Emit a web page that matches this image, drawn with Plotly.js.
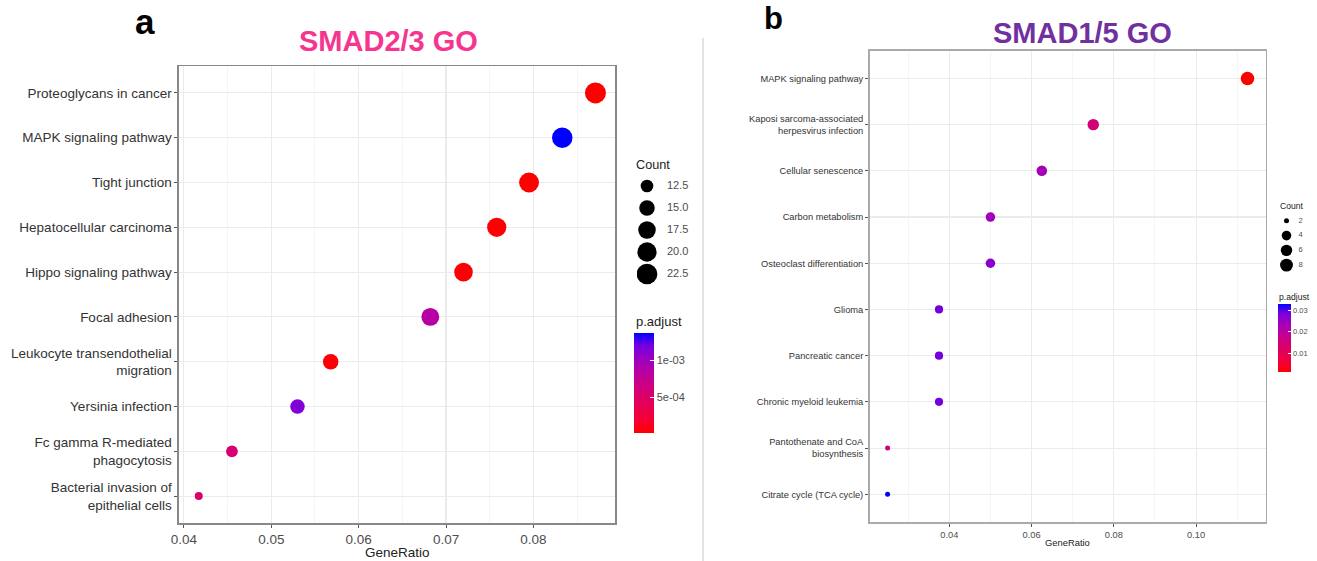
<!DOCTYPE html>
<html><head><meta charset="utf-8">
<script src="https://cdn.plot.ly/plotly-3.0.1.min.js"></script>
<style>html,body{margin:0;padding:0;background:#fff}#chart{width:1317px;height:561px}</style>
</head><body><div id="chart"></div>
<script>
// ---------- Panel a: SMAD2/3 ----------
const termsA = ['Proteoglycans in cancer','MAPK signaling pathway','Tight junction','Hepatocellular carcinoma','Hippo signaling pathway','Focal adhesion','Leukocyte transendothelial<br>migration','Yersinia infection','Fc gamma R-mediated<br>phagocytosis','Bacterial invasion of<br>epithelial cells'];
const ratioA = [0.0871,0.0833,0.0795,0.0758,0.0720,0.0682,0.0568,0.0530,0.0455,0.0417];
const countA = [23,22,21,20,19,18,15,14,12,11];
const padjA  = [2.5e-5,1.37e-3,3.0e-5,4.0e-5,3.5e-5,8.6e-4,5.0e-5,1.14e-3,5.6e-4,5.4e-4];
const countLegendA = [12.5,15.0,17.5,20.0,22.5];
const cbTickValsA = [1e-3,5e-4];
const cbTickTextA = ['1e-03','5e-04'];
const xTicksA = [0.04,0.05,0.06,0.07,0.08];

// ---------- Panel b: SMAD1/5 ----------
const termsB = ['MAPK signaling pathway','Kaposi sarcoma-associated<br>herpesvirus infection','Cellular senescence','Carbon metabolism','Osteoclast differentiation','Glioma','Pancreatic cancer','Chronic myeloid leukemia','Pantothenate and CoA<br>biosynthesis','Citrate cycle (TCA cycle)'];
const ratioB = [0.1125,0.0750,0.0625,0.0500,0.0500,0.0375,0.0375,0.0375,0.0250,0.0250];
const countB = [9,6,5,4,4,3,3,3,2,2];
const padjB  = [0.0015,0.0146,0.0234,0.0240,0.0265,0.0287,0.0287,0.0287,0.0134,0.0328];
const countLegendB = [2,4,6,8];
const cbTickValsB = [0.01,0.02,0.03];
const cbTickTextB = ['0.01','0.02','0.03'];
const xTicksB = [0.04,0.06,0.08,0.10];

const W = 1317, H = 561;
const px = v => v / W;           // x pixel -> paper
const py = v => 1 - v / H;       // y pixel (from top) -> paper
const FONT = 'Liberation Sans, Arial, sans-serif';

// ggplot2 default red->blue gradient (Lab interpolated)
const cscale = [[0,'#FF0000'],[0.125,'#F40031'],[0.25,'#E80050'],[0.375,'#DA006C'],[0.5,'#CA0089'],[0.625,'#B500A5'],[0.75,'#9A00C3'],[0.875,'#7300E0'],[1,'#0000FF']];

// ggplot scale_size (area) mapping
function sizeScale(cmin, cmax, dmin, dmax) {
  return c => dmin + (dmax - dmin) * Math.sqrt(Math.max(0, (c - cmin) / (cmax - cmin)));
}
const sizeA = sizeScale(Math.min(...countA), Math.max(...countA), 8, 21);
const sizeB = sizeScale(Math.min(...countB), Math.max(...countB), 5, 13.5);

function expand(arr) {
  const lo = Math.min(...arr), hi = Math.max(...arr), s = hi - lo;
  return [lo - 0.05 * s, hi + 0.05 * s];
}

const traces = [
  {
    type: 'scatter', mode: 'markers', x: ratioA, y: termsA, xaxis: 'x', yaxis: 'y',
    marker: {
      size: countA.map(sizeA), color: padjA, colorscale: cscale, line: {width: 0}, opacity: 1,
      showscale: true,
      colorbar: {
        x: px(634), xref: 'paper', xanchor: 'left', y: py(332.7), yref: 'paper', yanchor: 'top',
        len: 100, lenmode: 'pixels', thickness: 20, thicknessmode: 'pixels',
        outlinewidth: 0, xpad: 0, ypad: 0,
        tickmode: 'array', tickvals: cbTickValsA, ticktext: cbTickTextA,
        ticks: 'inside', ticklen: 4, tickwidth: 1, tickcolor: '#ffffff',
        tickfont: {family: FONT, size: 11, color: '#4D4D4D'}
      }
    },
    showlegend: false, hoverinfo: 'x+y'
  },
  {
    type: 'scatter', mode: 'markers', x: ratioB, y: termsB, xaxis: 'x2', yaxis: 'y2',
    marker: {
      size: countB.map(sizeB), color: padjB, colorscale: cscale, line: {width: 0}, opacity: 1,
      showscale: true,
      colorbar: {
        x: px(1278.3), xref: 'paper', xanchor: 'left', y: py(304), yref: 'paper', yanchor: 'top',
        len: 68, lenmode: 'pixels', thickness: 13, thicknessmode: 'pixels',
        outlinewidth: 0, xpad: 0, ypad: 0,
        tickmode: 'array', tickvals: cbTickValsB, ticktext: cbTickTextB,
        ticks: 'inside', ticklen: 3, tickwidth: 1, tickcolor: '#ffffff',
        tickfont: {family: FONT, size: 7.5, color: '#4D4D4D'}
      }
    },
    showlegend: false, hoverinfo: 'x+y'
  },
  // Count legend a
  {
    type: 'scatter', mode: 'markers', x: countLegendA.map(() => 0), y: countLegendA.map(v => v.toFixed(1)),
    xaxis: 'x3', yaxis: 'y3', marker: {size: countLegendA.map(sizeA), color: '#000000', opacity: 1, line: {width: 0}},
    showlegend: false, hoverinfo: 'skip'
  },
  {
    type: 'scatter', mode: 'text', x: countLegendA.map(() => 1), y: countLegendA.map(v => v.toFixed(1)),
    text: countLegendA.map(v => v.toFixed(1)), textposition: 'middle right',
    textfont: {family: FONT, size: 11, color: '#4D4D4D'},
    xaxis: 'x3', yaxis: 'y3', showlegend: false, hoverinfo: 'skip'
  },
  // Count legend b
  {
    type: 'scatter', mode: 'markers', x: countLegendB.map(() => 0), y: countLegendB.map(String),
    xaxis: 'x4', yaxis: 'y4', marker: {size: countLegendB.map(sizeB), color: '#000000', opacity: 1, line: {width: 0}},
    showlegend: false, hoverinfo: 'skip'
  },
  {
    type: 'scatter', mode: 'text', x: countLegendB.map(() => 1.2), y: countLegendB.map(String),
    text: countLegendB.map(String), textposition: 'middle right',
    textfont: {family: FONT, size: 7.5, color: '#4D4D4D'},
    xaxis: 'x4', yaxis: 'y4', showlegend: false, hoverinfo: 'skip'
  }
];

function mainX(domain, ticks, minorStep, fontSize, linecolor) {
  return {
    domain: domain, range: null, tickmode: 'array', tickvals: ticks, ticktext: ticks.map(t => t.toFixed(2)),
    showgrid: true, gridcolor: '#EBEBEB', gridwidth: 1.1,
    minor: {showgrid: true, dtick: minorStep, tick0: 0, gridcolor: '#F3F3F3', gridwidth: 0.8},
    zeroline: false, showline: true, mirror: true, linecolor: linecolor, linewidth: 1.5,
    ticks: 'outside', ticklen: 3, tickcolor: '#555', tickwidth: 1,
    tickfont: {family: FONT, size: fontSize, color: '#4D4D4D'}, fixedrange: true
  };
}
function mainY(domain, cats, fontSize, linecolor) {
  return {
    domain: domain, type: 'category', categoryorder: 'array', categoryarray: cats,
    range: [cats.length - 0.4, -0.6],
    showgrid: true, gridcolor: '#EBEBEB', gridwidth: 1.1,
    zeroline: false, showline: true, mirror: true, linecolor: linecolor, linewidth: 1.5,
    ticks: 'outside', ticklen: 3, tickcolor: '#555', tickwidth: 1,
    tickfont: {family: FONT, size: fontSize, color: '#333333'}, fixedrange: true
  };
}

const xa = mainX([px(178.9), px(615.3)], xTicksA, 0.005, 13.5, '#888');
xa.range = expand(ratioA);
const xb = mainX([px(869.6), px(1265.5)], xTicksB, 0.01, 9.3, '#aaa');
xb.range = expand(ratioB);

const layout = {
  width: W, height: H, margin: {l: 0, r: 0, t: 0, b: 0},
  paper_bgcolor: '#fff', plot_bgcolor: '#fff',
  font: {family: FONT},
  showlegend: false,
  xaxis: Object.assign(xa, {anchor: 'y'}),
  yaxis: Object.assign(mainY([py(523), py(66)], termsA, 13.5, '#888'), {anchor: 'x'}),
  xaxis2: Object.assign(xb, {anchor: 'y2'}),
  yaxis2: Object.assign(mainY([py(522), py(50.7)], termsB, 9.3, '#aaa'), {anchor: 'x2'}),
  xaxis3: {domain: [px(637), px(717)], range: [-0.5, 3.5], visible: false, anchor: 'y3', fixedrange: true},
  yaxis3: {domain: [py(285), py(175)], type: 'category', categoryarray: countLegendA.map(v => v.toFixed(1)), categoryorder: 'array',
           range: [countLegendA.length - 0.5, -0.5], visible: false, anchor: 'x3', fixedrange: true},
  xaxis4: {domain: [px(1276.5), px(1316.5)], range: [-1, 3], visible: false, anchor: 'y4', fixedrange: true},
  yaxis4: {domain: [py(272.5), py(213.5)], type: 'category', categoryarray: countLegendB.map(String), categoryorder: 'array',
           range: [countLegendB.length - 0.5, -0.5], visible: false, anchor: 'x4', fixedrange: true},
  shapes: [
    {type: 'line', xref: 'paper', yref: 'paper', x0: px(703), x1: px(703), y0: py(38), y1: 0,
     line: {color: '#DADADA', width: 1.5}}
  ],
  annotations: [
    {text: '<b>a</b>', x: px(145), y: py(22), xref: 'paper', yref: 'paper', xanchor: 'center', yanchor: 'middle',
     showarrow: false, font: {family: FONT, size: 35, color: '#000'}},
    {text: '<b>b</b>', x: px(773), y: 1, xref: 'paper', yref: 'paper', xanchor: 'center', yanchor: 'top',
     showarrow: false, borderpad: 0, font: {family: FONT, size: 31, color: '#000'}},
    {text: '<b>SMAD2/3 GO</b>', x: px(388.7), y: py(41), xref: 'paper', yref: 'paper', xanchor: 'center', yanchor: 'middle',
     showarrow: false, font: {family: FONT, size: 29, color: '#F5358F'}},
    {text: '<b>SMAD1/5 GO</b>', x: px(1082.7), y: py(33), xref: 'paper', yref: 'paper', xanchor: 'center', yanchor: 'middle',
     showarrow: false, font: {family: FONT, size: 29, color: '#7030A0'}},
    {text: 'GeneRatio', x: px(397), y: py(552.5), xref: 'paper', yref: 'paper', xanchor: 'center', yanchor: 'middle',
     showarrow: false, font: {family: FONT, size: 13.5, color: '#222'}},
    {text: 'GeneRatio', x: px(1067.5), y: py(542), xref: 'paper', yref: 'paper', xanchor: 'center', yanchor: 'middle',
     showarrow: false, font: {family: FONT, size: 9.4, color: '#222'}},
    {text: 'Count', x: px(634), y: py(164.5), xref: 'paper', yref: 'paper', xanchor: 'left', yanchor: 'middle',
     showarrow: false, font: {family: FONT, size: 12.7, color: '#222'}},
    {text: 'p.adjust', x: px(634), y: py(321), xref: 'paper', yref: 'paper', xanchor: 'left', yanchor: 'middle',
     showarrow: false, font: {family: FONT, size: 13, color: '#222'}},
    {text: 'Count', x: px(1278), y: py(206), xref: 'paper', yref: 'paper', xanchor: 'left', yanchor: 'middle',
     showarrow: false, font: {family: FONT, size: 8.6, color: '#222'}},
    {text: 'p.adjust', x: px(1277), y: py(297), xref: 'paper', yref: 'paper', xanchor: 'left', yanchor: 'middle',
     showarrow: false, font: {family: FONT, size: 8.6, color: '#222'}}
  ]
};

Plotly.newPlot('chart', traces, layout, {staticPlot: true, displayModeBar: false});
</script>
</body></html>
